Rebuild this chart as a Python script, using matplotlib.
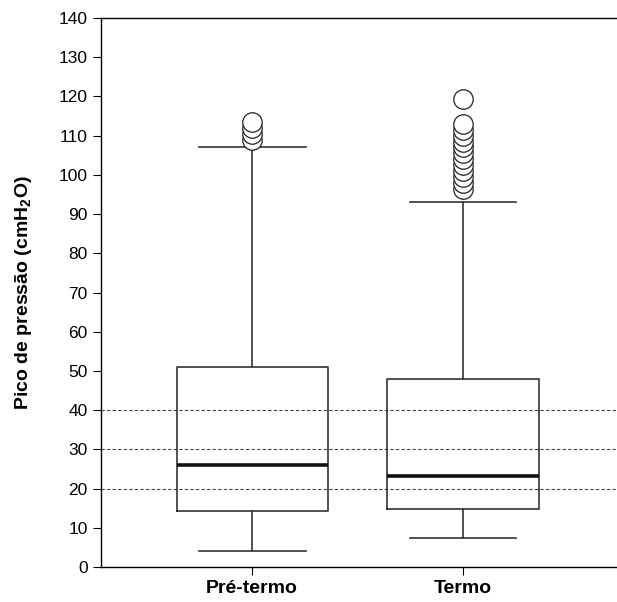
import matplotlib
matplotlib.use('Agg')
import matplotlib.pyplot as plt

plt.rcParams['font.family'] = ['Liberation Sans', 'DejaVu Sans']
plt.rcParams['mathtext.fontset'] = 'custom'
plt.rcParams['mathtext.rm'] = 'Liberation Sans'
plt.rcParams['mathtext.bf'] = 'Liberation Sans:bold'

groups = ['Pré-termo', 'Termo']
whislo = [4, 7.5]
q1 = [14.3, 14.8]
med = [26, 23.3]
q3 = [51, 48]
whishi = [107, 93]
fliers = [
    [109, 110.5, 112, 113.5],
    [96.5, 98, 99.5, 101, 102.5, 104, 105.5, 107, 108.5, 110, 111.5, 113, 119.4],
]
ref_lines = [20, 30, 40]

stats = []
for i in range(len(groups)):
    stats.append({'label': groups[i], 'whislo': whislo[i], 'q1': q1[i], 'med': med[i],
                  'q3': q3[i], 'whishi': whishi[i], 'fliers': fliers[i]})

fig = plt.figure(figsize=(6.17, 6.02), dpi=100)
ax = fig.add_axes([0.1637, 0.0581, 0.8363, 0.912])

for v in ref_lines:
    ax.axhline(v, color='#444444', lw=0.8, ls=(0, (3, 2)), zorder=1)

lc = '#333333'
ax.bxp(stats, positions=[1, 2], widths=0.716, capwidths=0.507, showfliers=True,
       boxprops=dict(color=lc, lw=1.2),
       whiskerprops=dict(color=lc, lw=1.2),
       capprops=dict(color=lc, lw=1.2),
       medianprops=dict(color='#111111', lw=2.6),
       flierprops=dict(marker='o', markersize=14, markerfacecolor='white',
                       markeredgecolor='#222222', markeredgewidth=0.9))

ax.set_xlim(0.284, 2.73)
ax.set_ylim(0, 140)
ax.set_yticks(range(0, 141, 10))
ax.set_xticks([1, 2])
ax.set_xticklabels(groups, fontsize=14, fontweight='bold')
ax.tick_params(axis='y', labelsize=12.5, direction='out', length=6, width=0.8)
ax.tick_params(axis='x', direction='out', length=6, width=0.8, pad=3)
ax.spines['right'].set_visible(False)
for s in ['left', 'top', 'bottom']:
    ax.spines[s].set_linewidth(1.0)
ax.set_ylabel(r'Pico de pressão (cmH$_{\mathbf{2}}$O)', fontsize=14, fontweight='bold', labelpad=18)

fig.savefig('out.png', dpi=100)
